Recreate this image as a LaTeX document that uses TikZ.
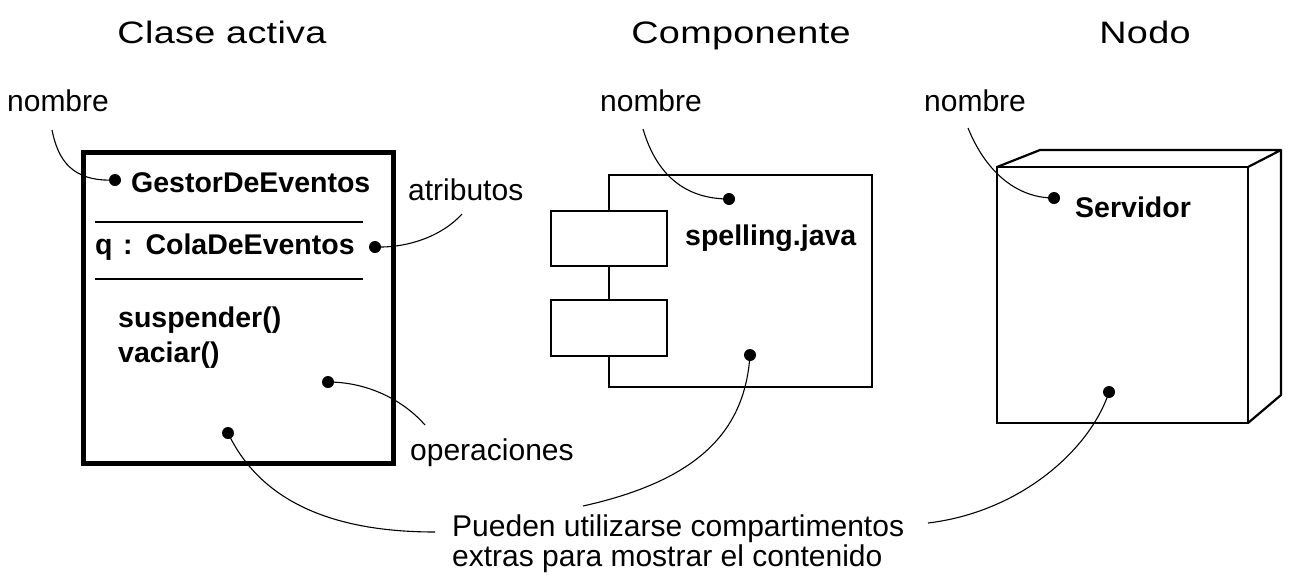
\documentclass[tikz,border=0pt]{standalone}
\usepackage{fontspec}
\setmainfont{Liberation Sans}
\newfontfamily\ttlfont[FakeStretch=1.22,LetterSpace=1]{Liberation Sans}
\begin{document}
\begin{tikzpicture}[x=1pt,y=-1pt,
  ttl/.style={font=\ttlfont\fontsize{31}{35}\selectfont, inner sep=0pt, anchor=base},
  lbl/.style={font=\fontsize{30}{34}\selectfont, inner sep=0pt, anchor=base},
  bld/.style={font=\bfseries\fontsize{28.5}{32}\selectfont, inner sep=0pt, anchor=base west},
  dotc/.style={circle, fill=black, inner sep=0pt, minimum size=12pt},
  lead/.style={line width=1.1pt}]
\useasboundingbox (0,0) rectangle (1293,587);
% titles
\node[ttl] (t1) at (222,43) {Clase activa};
\node[ttl] (t2) at (741,43) {Componente};
\node[ttl] (t3) at (1145,43) {Nodo};
% labels
\node[lbl] (n1) at (58,111) {nombre};
\node[lbl] (n2) at (651,111) {nombre};
\node[lbl] (n3) at (975,111) {nombre};
\node[lbl, anchor=base west] (atr) at (408,200) {atributos};
\node[lbl, anchor=base west] (ops) at (410,460) {operaciones};
\node[lbl, anchor=base west] (ext1) at (452,536) {Pueden utilizarse compartimentos};
\node[lbl, anchor=base west] (ext2) at (452,566) {extras para mostrar el contenido};
% active class
\draw[line width=5pt] (83,152) rectangle (393,463);
\draw[line width=2.5pt] (95,222) -- (363,222);
\draw[line width=2.5pt] (95,279) -- (363,279);
\node[bld] (g) at (131,192) {GestorDeEventos};
\node[bld] (q) at (95,254) {q\hspace{2.5pt} :\hspace{2.5pt} ColaDeEventos};
\node[bld] (s) at (118,327) {suspender()};
\node[bld] (v) at (118,362) {vaciar()};
\node[dotc] (d1) at (115,180) {};
\node[dotc] (d2) at (375,247) {};
\node[dotc] (d3) at (328,382) {};
\node[dotc] (d4) at (228,433) {};
% component
\draw[line width=2.2pt] (609,175) rectangle (872,387);
\draw[line width=2.2pt, fill=white] (551,211) rectangle (667,266);
\draw[line width=2.2pt, fill=white] (551,300) rectangle (667,356);
\node[bld] (sp) at (685,245) {spelling.java};
\node[dotc] (d5) at (729,199) {};
\node[dotc] (d6) at (750,355) {};
% node
\draw[line width=2.2pt] (997,167) rectangle (1248,423);
\draw[line width=2.2pt, line join=round] (997,167) -- (1040,150) -- (1281,150) -- (1248,167);
\draw[line width=2.2pt, line join=round] (1281,150) -- (1281,395) -- (1248,423);
\node[bld] (sv) at (1075,217) {Servidor};
\node[dotc] (d7) at (1054,198) {};
\node[dotc] (d8) at (1109,392) {};
% leaders
\coordinate (c1) at (52,130);
\coordinate (c2) at (462,214);
\coordinate (c3) at (425,425);
\coordinate (c4) at (643,129);
\coordinate (c5) at (968,128);
\coordinate (c6) at (435,532);
\coordinate (c7) at (583,506);
\coordinate (c8) at (928,523);
\draw[lead] (c1) .. controls (58,160) and (72,182) .. (d1.center);
\draw[lead] (c2) .. controls (440,238) and (405,248) .. (d2.center);
\draw[lead] (d3.center) .. controls (370,382) and (405,402) .. (c3);
\draw[lead] (c4) .. controls (658,180) and (690,199) .. (d5.center);
\draw[lead] (c5) .. controls (985,170) and (1015,198) .. (d7.center);
\draw[lead] (d4.center) .. controls (260,500) and (330,532) .. (c6);
\draw[lead] (d6.center) .. controls (745,430) and (700,480) .. (c7);
\draw[lead] (d8.center) .. controls (1090,450) and (1020,512) .. (c8);
\end{tikzpicture}
\end{document}
